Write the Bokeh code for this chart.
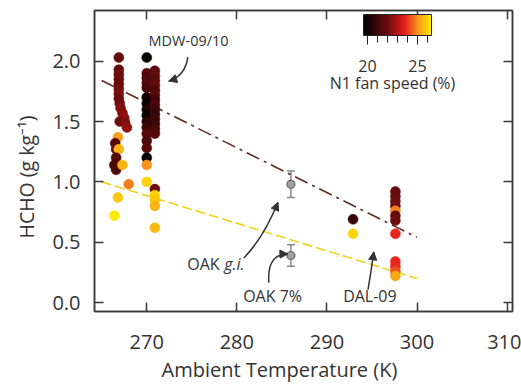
import numpy as np
from bokeh.plotting import figure
from bokeh.models import (Range1d, FixedTicker, PrintfTickFormatter, LinearAxis, LinearColorMapper,
                          ColorBar, SingleIntervalTicker, ColumnDataSource, Whisker, Arrow, NormalHead,
                          TeeHead, Label, Title)
from bokeh.core.properties import value
from bokeh.embed import file_html
from bokeh.resources import INLINE

# ---------------- data ----------------
mdw_temp = [266.9, 266.9, 266.9, 266.9, 266.9, 266.9, 266.9, 266.9, 267.0, 267.1, 267.3, 267.5, 267.0,
            267.6, 267.8, 266.8, 266.5, 266.6, 266.9, 266.6, 266.4, 266.6, 267.3, 268.0, 266.8, 266.4,
            270.0, 270.0, 270.0, 270.0, 270.0, 270.0, 270.0, 270.0, 270.0, 270.0, 270.0, 270.0, 270.0,
            270.0, 270.0, 270.0, 270.0,
            270.9, 270.9, 270.9, 270.9, 270.9, 270.9, 270.9, 270.9, 270.9, 270.9, 270.9, 270.9, 270.9,
            270.9, 270.9, 270.9, 270.9, 270.9, 270.9]
mdw_hcho = [2.03, 1.93, 1.89, 1.85, 1.81, 1.77, 1.73, 1.69, 1.65, 1.61, 1.57, 1.53, 1.50,
            1.49, 1.45, 1.37, 1.32, 1.27, 1.27, 1.20, 1.14, 1.10, 1.14, 0.98, 0.87, 0.72,
            2.03, 1.90, 1.86, 1.82, 1.78, 1.70, 1.65, 1.60, 1.55, 1.50, 1.45, 1.40, 1.34,
            1.28, 1.20, 1.14, 1.00,
            1.92, 1.88, 1.84, 1.80, 1.76, 1.72, 1.68, 1.64, 1.60, 1.56, 1.52, 1.48, 1.44,
            1.40, 0.94, 0.89, 0.85, 0.80, 0.62]
mdw_fan = [21.8, 21.8, 22.0, 22.0, 21.8, 22.0, 22.2, 22.0, 22.0, 22.3, 22.3, 22.5, 22.0,
           22.3, 22.5, 25.2, 21.5, 21.8, 25.5, 21.5, 21.3, 21.3, 25.5, 24.8, 25.8, 26.3,
           19.7, 21.5, 21.3, 21.5, 21.2, 20.0, 19.8, 20.2, 19.8, 20.5, 21.0, 21.5, 21.3,
           21.5, 19.6, 25.0, 26.0,
           21.5, 21.8, 21.5, 21.8, 21.3, 21.5, 21.0, 21.3, 21.0, 20.8, 21.0, 20.8, 21.2,
           21.5, 22.0, 26.0, 25.8, 25.5, 25.6]

dal_temp = [292.9, 292.9, 297.6, 297.6, 297.6, 297.6, 297.6, 297.6, 297.6, 297.6, 297.6, 297.6, 297.6, 297.6]
dal_hcho = [0.69, 0.57, 0.92, 0.88, 0.84, 0.80, 0.76, 0.72, 0.68, 0.57, 0.34, 0.30, 0.26, 0.22]
dal_fan = [20.8, 26.0, 21.8, 21.8, 22.0, 22.0, 24.8, 21.8, 22.0, 23.8, 23.8, 23.8, 24.3, 25.3]

oak_temp = [286.0, 286.0]
oak_hcho = [0.98, 0.39]
oak_err = [0.11, 0.09]
oak_names = ["OAK g.i.", "OAK 7%"]

fit_temp = [265.0, 300.0]
fit_low_fan = [1.84, 0.54]    # dark (low fan speed) fit
fit_high_fan = [1.00, 0.20]   # yellow (high fan speed) fit

x_ticks = [270, 280, 290, 300, 310]
y_ticks = [0.0, 0.5, 1.0, 1.5, 2.0]
cbar_low, cbar_high = 19.6, 26.4

# ---------------- styling ----------------
FONT = "Open Sans"
AX = "#3a3a3a"
TXT = "#333333"
anchors = [(0.0, (0, 0, 0)), (0.36, (112, 13, 13)), (0.6, (228, 26, 28)),
           (0.8, (247, 148, 29)), (1.0, (255, 238, 0))]
palette = []
for t in np.linspace(0, 1, 256):
    for (t0, c0), (t1, c1) in zip(anchors[:-1], anchors[1:]):
        if t0 <= t <= t1:
            f = (t - t0) / (t1 - t0)
            c = [int(round(a + (b - a) * f)) for a, b in zip(c0, c1)]
            palette.append("#%02x%02x%02x" % tuple(c))
            break
mapper = LinearColorMapper(palette=palette, low=cbar_low, high=cbar_high)

p = figure(width=521, height=388, output_backend="svg", toolbar_location=None,
           x_range=Range1d(264.2, 310.6), y_range=Range1d(-0.074, 2.42),
           min_border_left=94, min_border_right=9, min_border_top=10, min_border_bottom=75)
p.grid.visible = False
p.outline_line_color = AX
p.outline_line_width = 1.5
p.background_fill_color = "white"
p.border_fill_color = "white"

for ax in (p.xaxis[0], p.yaxis[0]):
    ax.axis_line_color = AX
    ax.axis_line_width = 1.5
    ax.major_tick_in = 9
    ax.major_tick_out = 0
    ax.major_tick_line_color = AX
    ax.major_tick_line_width = 1.5
    ax.minor_tick_line_color = None
    ax.major_label_text_font = FONT
    ax.major_label_text_font_size = "20px"
    ax.major_label_text_color = TXT

p.xaxis.ticker = FixedTicker(ticks=x_ticks)
p.yaxis.ticker = FixedTicker(ticks=y_ticks)
p.yaxis.formatter = PrintfTickFormatter(format="%.1f")
p.xaxis.major_label_standoff = 23
p.yaxis.major_label_standoff = 14

for side, tk in (("above", x_ticks), ("right", y_ticks)):
    ax2 = LinearAxis(ticker=FixedTicker(ticks=tk), major_label_overrides={t: "" for t in tk},
                     major_label_text_font_size="1px", major_label_standoff=0,
                     major_tick_in=9, major_tick_out=0,
                     major_tick_line_color=AX, major_tick_line_width=1.5,
                     minor_tick_line_color=None, axis_line_color=AX, axis_line_width=1.5)
    p.add_layout(ax2, side)

# axis titles as side-panel titles
p.add_layout(Title(text="Ambient Temperature (K)", align="left", offset=67, standoff=8,
                   text_font=FONT, text_font_size="20px", text_font_style="normal",
                   text_color=TXT, vertical_align="top"), "below")
p.add_layout(Title(text="HCHO (g kg⁻¹)", align="left", offset=73, standoff=18,
                   text_font=FONT, text_font_size="19.5px", text_font_style="normal",
                   text_color=TXT, vertical_align="middle"), "left")

# fit lines
p.line(fit_temp, fit_low_fan, line_color="#5e2c22", line_width=1.6, line_dash="14 5 3 5")
p.line(fit_temp, fit_high_fan, line_color="#f2d21b", line_width=1.6, line_dash="10 4")

# scatter points
src_mdw = ColumnDataSource(dict(x=mdw_temp, y=mdw_hcho, f=mdw_fan))
src_dal = ColumnDataSource(dict(x=dal_temp, y=dal_hcho, f=dal_fan))
for src in (src_mdw, src_dal):
    p.scatter("x", "y", source=src, size=10, fill_color={"field": "f", "transform": mapper},
              line_color={"field": "f", "transform": mapper}, line_width=0.5)

# OAK points with error bars
oak_lo = [h - e for h, e in zip(oak_hcho, oak_err)]
oak_hi = [h + e for h, e in zip(oak_hcho, oak_err)]
src_oak = ColumnDataSource(dict(x=oak_temp, y=oak_hcho, lo=oak_lo, hi=oak_hi))
p.add_layout(Whisker(source=src_oak, base="x", lower="lo", upper="hi", dimension="height",
                     line_color="#8a8a8a", line_width=1.5,
                     lower_head=TeeHead(size=8, line_color="#8a8a8a", line_width=1.5),
                     upper_head=TeeHead(size=8, line_color="#8a8a8a", line_width=1.5)))
p.scatter("x", "y", source=src_oak, size=8, fill_color="#a0a0a0", line_color="#666666", line_width=1.2)

# annotations
def txt(x, y, s, style="normal", size="16px"):
    p.text([x], [y], text=[s], text_font=value(FONT), text_font_size=size, text_color=TXT,
           text_align="left", text_baseline="middle", text_font_style=style)

txt(270.2, 2.17, "MDW-09/10", size="14.5px")
txt(274.5, 0.32, "OAK")
txt(278.6, 0.32, "g.i.", "italic")
txt(280.7, 0.058, "OAK 7%")
txt(291.8, 0.058, "DAL-09")

# curved arrows: (start, control, end)
arrows = [((274.56, 2.033), (274.3, 1.88), (272.44, 1.835)),
          ((280.78, 0.37), (283.0, 0.54), (284.56, 0.831)),
          ((283.56, 0.165), (283.3, 0.40), (285.67, 0.403)),
          ((294.56, 0.107), (294.95, 0.28), (295.2, 0.42))]
for (x0, y0), (cx, cy), (x1, y1) in arrows:
    p.quadratic(x0=[x0], y0=[y0], x1=[x1], y1=[y1], cx=[cx], cy=[cy], line_color=TXT, line_width=1.5)
    p.add_layout(Arrow(x_start=cx, y_start=cy, x_end=x1, y_end=y1, line_alpha=0,
                       end=NormalHead(size=8, fill_color=TXT, line_color=TXT, line_width=1)))

# color bar
cbar = ColorBar(color_mapper=mapper, orientation="horizontal", width=68, height=21,
                location=(269, 237), padding=0, margin=0,
                ticker=SingleIntervalTicker(interval=5, num_minor_ticks=5),
                major_tick_in=0, major_tick_out=9, minor_tick_in=0, minor_tick_out=7,
                major_tick_line_color="#222222", minor_tick_line_color="#222222",
                bar_line_color="#222222", bar_line_width=1,
                major_label_text_font=FONT, major_label_text_font_size="16px",
                major_label_text_color=TXT, label_standoff=15,
                background_fill_alpha=0, border_line_color=None)
p.add_layout(cbar, "center")
p.add_layout(Label(x=298, y=229, x_units="screen", y_units="screen", text="N1 fan speed (%)",
                   text_font=FONT, text_font_size="16px", text_color=TXT,
                   text_align="center", text_baseline="middle"))

open("out.html", "w").write(file_html(p, INLINE))
